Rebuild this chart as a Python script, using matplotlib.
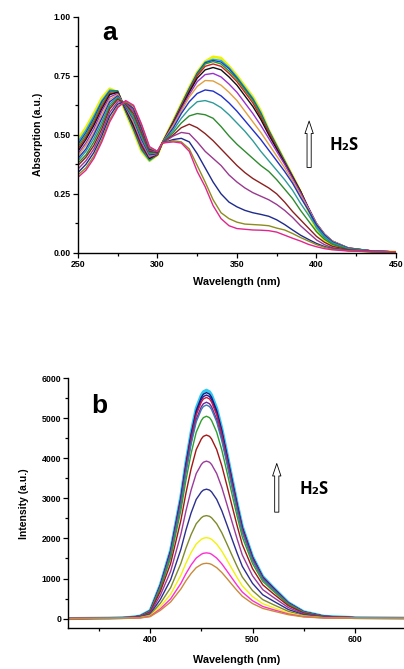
import numpy as np
import matplotlib.pyplot as plt
from matplotlib.ticker import MultipleLocator

plt.rcParams['font.family'] = ['Liberation Sans', 'DejaVu Sans']
plt.rcParams['font.weight'] = 'bold'

# ---- panel a: UV-vis absorption ----
wl_a = [250, 255, 260, 265, 270, 275, 280, 285, 290, 295, 300, 303,
        310, 315, 320, 325, 330, 335, 340, 345, 350, 355, 360, 365, 370,
        375, 380, 385, 390, 395, 400, 405, 410, 420, 435, 450]

abs_0 = [.32, .35, .40, .47, .555, .615, .645, .625, .545, .45, .43, .465,
         .47, .465, .43, .345, .28, .20, .145, .115, .103, .10, .097, .096, .094,
         .088, .075, .062, .05, .036, .026, .018, .013, .008, .005, .004]
abs_1 = [.33, .36, .41, .48, .565, .62, .64, .62, .54, .445, .43, .465,
         .475, .47, .44, .37, .30, .225, .17, .145, .13, .122, .12, .118, .115,
         .105, .097, .082, .065, .05, .035, .024, .016, .009, .005, .004]
abs_2 = [.34, .375, .425, .495, .58, .63, .64, .61, .53, .44, .43, .465,
         .48, .485, .47, .42, .36, .30, .25, .215, .195, .18, .17, .163, .155,
         .14, .12, .097, .075, .057, .04, .027, .018, .01, .005, .004]
abs_3 = [.355, .39, .44, .51, .595, .64, .635, .60, .52, .435, .43, .465,
         .495, .51, .505, .47, .43, .40, .37, .33, .30, .275, .255, .24, .225,
         .205, .18, .15, .115, .085, .055, .035, .022, .011, .006, .004]
abs_4 = [.37, .405, .455, .525, .61, .65, .63, .59, .51, .43, .425, .465,
         .50, .53, .545, .53, .505, .475, .44, .405, .37, .34, .315, .295, .275,
         .25, .215, .175, .14, .105, .07, .045, .028, .013, .006, .004]
abs_5 = [.38, .415, .47, .54, .62, .655, .63, .58, .50, .425, .425, .465,
         .51, .55, .58, .59, .585, .57, .535, .495, .46, .43, .40, .37, .345,
         .31, .27, .23, .18, .135, .09, .058, .036, .015, .007, .004]
abs_6 = [.39, .43, .485, .555, .63, .66, .625, .57, .49, .42, .425, .465,
         .52, .57, .61, .64, .645, .635, .615, .585, .55, .515, .475, .43, .39,
         .35, .31, .265, .21, .16, .11, .07, .043, .018, .008, .004]
abs_7 = [.40, .44, .50, .57, .64, .665, .62, .565, .48, .415, .42, .465,
         .53, .59, .64, .675, .69, .685, .665, .635, .60, .56, .52, .48, .435,
         .39, .345, .295, .235, .18, .12, .077, .047, .02, .008, .004]
abs_8 = [.41, .455, .51, .585, .65, .67, .62, .555, .475, .41, .42, .465,
         .54, .60, .66, .705, .73, .728, .71, .68, .645, .60, .555, .51, .46,
         .41, .36, .305, .245, .185, .125, .08, .05, .021, .008, .004]
abs_9 = [.42, .465, .525, .60, .66, .675, .615, .55, .465, .405, .42, .465,
         .545, .61, .67, .725, .755, .76, .745, .715, .68, .635, .59, .54, .485,
         .43, .375, .315, .255, .19, .125, .08, .05, .021, .008, .004]
abs_10 = [.43, .48, .54, .61, .67, .68, .61, .54, .46, .40, .42, .465,
          .55, .615, .68, .74, .775, .785, .775, .745, .71, .665, .62, .565, .50,
          .44, .38, .32, .26, .19, .125, .08, .05, .021, .008, .004]
abs_11 = [.44, .49, .55, .62, .675, .68, .61, .535, .45, .40, .415, .465,
          .553, .62, .685, .75, .79, .80, .79, .76, .725, .68, .635, .575, .51,
          .445, .383, .322, .26, .19, .122, .078, .048, .02, .008, .004]
abs_12 = [.45, .50, .56, .63, .68, .685, .605, .53, .445, .395, .415, .465,
          .555, .625, .69, .755, .80, .81, .80, .77, .735, .69, .645, .585, .515,
          .45, .386, .323, .26, .188, .12, .075, .046, .019, .008, .004]
abs_13 = [.46, .51, .57, .64, .685, .685, .60, .525, .44, .395, .415, .465,
          .557, .627, .695, .76, .805, .815, .808, .78, .74, .695, .65, .59, .518,
          .452, .388, .324, .26, .185, .115, .07, .043, .018, .008, .004]
abs_14 = [.47, .52, .58, .645, .69, .685, .60, .52, .435, .39, .415, .465,
          .558, .628, .697, .762, .808, .82, .815, .785, .745, .70, .655, .595, .52,
          .455, .39, .325, .26, .18, .105, .065, .04, .017, .007, .004]
abs_15 = [.48, .53, .59, .655, .695, .68, .595, .515, .43, .39, .415, .465,
          .56, .63, .70, .765, .81, .83, .825, .79, .75, .705, .66, .60, .52,
          .455, .39, .325, .26, .175, .095, .055, .03, .012, .006, .004]

abs_all = [abs_0, abs_1, abs_2, abs_3, abs_4, abs_5, abs_6, abs_7, abs_8,
           abs_9, abs_10, abs_11, abs_12, abs_13, abs_14, abs_15]
colors_a = ['#E0268C', '#8C8C1E', '#1E2A8C', '#99398F', '#8B2020', '#2E8B2E',
            '#2E9A9A', '#2030C8', '#E0A040', '#9B30D0', '#101010', '#D02020',
            '#20A020', '#2040D0', '#20B0E0', '#F0F000']

# ---- panel b: fluorescence ----
wl_b = [320, 360, 380, 390, 400, 410, 420, 430, 435, 440, 445, 450, 452, 455,
        458, 460, 465, 470, 475, 480, 485, 490, 500, 510, 520, 535, 550, 570,
        600, 650]

fl_0 = [0, 3, 7, 15, 48, 206, 414, 738, 945, 1126, 1271, 1351, 1370, 1380,
        1370, 1351, 1271, 1150, 1001, 847, 697, 558, 375, 254, 189, 97, 41, 14, 6, 3]
fl_1 = [0, 3, 8, 18, 57, 244, 492, 877, 1123, 1338, 1510, 1606, 1629, 1640,
        1629, 1606, 1510, 1366, 1189, 1007, 828, 663, 446, 302, 225, 115, 49, 16, 7, 3]
fl_2 = [0, 4, 10, 22, 71, 301, 606, 1081, 1384, 1648, 1860, 1978, 2006, 2020,
        2006, 1978, 1860, 1683, 1465, 1240, 1020, 816, 549, 372, 277, 141, 61, 20, 8, 4]
fl_3 = [0, 5, 13, 28, 90, 383, 771, 1375, 1760, 2097, 2367, 2516, 2552, 2570,
        2552, 2516, 2367, 2141, 1863, 1578, 1298, 1038, 699, 473, 352, 180, 77, 26, 10, 5]
fl_4 = [0, 6, 16, 36, 113, 481, 969, 1728, 2213, 2636, 2975, 3162, 3207, 3230,
        3207, 3162, 2975, 2691, 2342, 1983, 1631, 1305, 879, 594, 443, 226, 97, 32, 13, 6]
fl_5 = [0, 8, 20, 43, 138, 586, 1179, 2103, 2692, 3207, 3620, 3847, 3902, 3930,
        3902, 3847, 3620, 3274, 2849, 2413, 1985, 1588, 1069, 723, 538, 275, 118, 39, 16, 8]
fl_6 = [0, 9, 23, 50, 160, 682, 1374, 2450, 3137, 3737, 4218, 4484, 4548, 4580,
        4548, 4484, 4218, 3815, 3320, 2812, 2313, 1850, 1246, 843, 627, 321, 137, 46, 18, 9]
fl_7 = [0, 10, 25, 56, 177, 752, 1515, 2702, 3459, 4121, 4651, 4944, 5015, 5050,
        5015, 4944, 4651, 4207, 3661, 3101, 2550, 2040, 1374, 929, 692, 354, 152, 51, 20, 10]
fl_8 = [0, 11, 27, 59, 187, 794, 1599, 2852, 3651, 4349, 4909, 5218, 5293, 5330,
        5293, 5218, 4909, 4440, 3864, 3273, 2692, 2153, 1450, 981, 730, 373, 160, 53, 21, 11]
fl_9 = [0, 11, 27, 59, 189, 805, 1620, 2889, 3699, 4406, 4973, 5287, 5362, 5400,
        5362, 5287, 4973, 4498, 3915, 3316, 2727, 2182, 1469, 994, 740, 378, 162, 54, 22, 11]
fl_10 = [0, 11, 28, 61, 193, 822, 1656, 2953, 3781, 4504, 5084, 5404, 5481, 5520,
         5481, 5404, 5084, 4598, 4002, 3389, 2788, 2230, 1501, 1016, 756, 386, 166, 55, 22, 11]
fl_11 = [0, 11, 28, 61, 195, 831, 1674, 2985, 3822, 4553, 5139, 5463, 5541, 5580,
         5541, 5463, 5139, 4648, 4046, 3426, 2818, 2254, 1518, 1027, 764, 391, 167, 56, 22, 11]
fl_12 = [0, 11, 28, 62, 197, 840, 1692, 3017, 3863, 4602, 5194, 5522, 5601, 5640,
         5601, 5522, 5194, 4698, 4089, 3463, 2848, 2279, 1534, 1038, 773, 395, 169, 56, 23, 11]
fl_13 = [0, 11, 29, 63, 200, 849, 1710, 3050, 3905, 4651, 5250, 5580, 5660, 5700,
         5660, 5580, 5250, 4748, 4133, 3500, 2879, 2303, 1550, 1049, 781, 399, 171, 57, 23, 11]

fl_all = [fl_0, fl_1, fl_2, fl_3, fl_4, fl_5, fl_6, fl_7, fl_8, fl_9,
          fl_10, fl_11, fl_12, fl_13]
colors_b = ['#C98A3C', '#FF2ED0', '#F2F20A', '#7F8A2A', '#2B2F8F', '#9B3A9B',
            '#A51515', '#2E9E2E', '#3C78B4', '#6A2A9A', '#D4143A', '#1A1AA0',
            '#0A1E7A', '#33C8F0']


def style_axis(ax):
    for s in ['top', 'right']:
        ax.spines[s].set_visible(False)
    for s in ['left', 'bottom']:
        ax.spines[s].set_linewidth(1.0)
    ax.tick_params(which='major', direction='out', length=3.5, width=0.9,
                   labelsize=6.3, pad=1.5)
    ax.tick_params(which='minor', direction='out', length=2, width=0.9)
    for lab in ax.get_xticklabels() + ax.get_yticklabels():
        lab.set_fontweight('bold')


fig = plt.figure(figsize=(4.04, 6.69), dpi=100)

ax1 = fig.add_axes([0.193, 0.622, 0.787, 0.353])
for i in range(len(abs_all) - 1, -1, -1):
    lw = 2.0 if i == 15 else 1.0
    ax1.plot(wl_a, abs_all[i], color=colors_a[i], lw=lw)
ax1.set_xlim(250, 450)
ax1.set_ylim(0, 1.0)
ax1.xaxis.set_major_locator(MultipleLocator(50))
ax1.xaxis.set_minor_locator(MultipleLocator(25))
ax1.yaxis.set_major_locator(MultipleLocator(0.25))
ax1.yaxis.set_minor_locator(MultipleLocator(0.125))
ax1.yaxis.set_major_formatter(plt.FormatStrFormatter('%.2f'))
style_axis(ax1)
ax1.set_xlabel('Wavelength (nm)', fontsize=7.8, fontweight='bold', labelpad=6)
ax1.set_ylabel('Absorption (a.u.)', fontsize=7.5, fontweight='bold', labelpad=8)
ax1.text(0.10, 0.93, 'a', transform=ax1.transAxes, fontsize=19,
         fontweight='bold', ha='center', va='center')
ax1.annotate('', xy=(0.727, 0.57), xytext=(0.727, 0.35),
             xycoords='axes fraction', textcoords='axes fraction',
             arrowprops=dict(arrowstyle='simple,head_width=0.6,head_length=0.9,tail_width=0.3',
                             fc='white', ec='black', lw=0.6))
ax1.text(0.79, 0.458, 'H₂S', transform=ax1.transAxes, fontsize=12,
         fontweight='bold', ha='left', va='center', family=['Open Sans', 'DejaVu Sans'])

ax2 = fig.add_axes([0.169, 0.061, 0.831, 0.3737])
for i in range(len(fl_all) - 1, -1, -1):
    lw = 2.2 if i == 13 else 1.0
    ax2.plot(wl_b, fl_all[i], color=colors_b[i], lw=lw)
ax2.set_xlim(320, 648)
ax2.set_ylim(-240, 6000)
ax2.xaxis.set_major_locator(MultipleLocator(100))
ax2.xaxis.set_minor_locator(MultipleLocator(50))
ax2.yaxis.set_major_locator(MultipleLocator(1000))
ax2.yaxis.set_minor_locator(MultipleLocator(500))
style_axis(ax2)
ax2.set_xlabel('Wavelength (nm)', fontsize=7.8, fontweight='bold', labelpad=8)
ax2.set_ylabel('Intensity (a.u.)', fontsize=7.5, fontweight='bold', labelpad=9)
ax2.text(0.092, 0.89, 'b', transform=ax2.transAxes, fontsize=19,
         fontweight='bold', ha='center', va='center')
ax2.annotate('', xy=(0.621, 0.67), xytext=(0.621, 0.453),
             xycoords='axes fraction', textcoords='axes fraction',
             arrowprops=dict(arrowstyle='simple,head_width=0.6,head_length=0.9,tail_width=0.3',
                             fc='white', ec='black', lw=0.6))
ax2.text(0.69, 0.557, 'H₂S', transform=ax2.transAxes, fontsize=12,
         fontweight='bold', ha='left', va='center', family=['Open Sans', 'DejaVu Sans'])

fig.savefig('out.png', dpi=100)
